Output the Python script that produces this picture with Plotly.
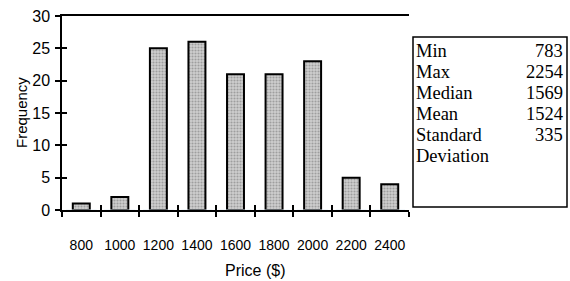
import plotly.graph_objects as go

categories = ["800", "1000", "1200", "1400", "1600", "1800", "2000", "2200", "2400"]
frequency = [1, 2, 25, 26, 21, 21, 23, 5, 4]
y_ticks = [0, 5, 10, 15, 20, 25, 30]
stat_labels = ["Min", "Max", "Median", "Mean", "Standard", "Deviation"]
stat_values = ["783", "2254", "1569", "1524", "335", ""]

W, H = 570, 281
ml, mr, mt, mb = 62, 161, 16, 71
pw, ph = W - ml - mr, H - mt - mb

def px_x(x):
    return (x - ml) / pw

def px_y(y):
    return (H - mb - y) / ph

sans = "Liberation Sans, Arial"
fig = go.Figure()
fig.add_trace(go.Bar(
    x=categories, y=frequency, width=0.44,
    marker=dict(color="#cfcfcf", line=dict(color="black", width=2),
                pattern=dict(shape=".", fgcolor="#6e6e6e", size=3, solidity=0.4)),
    showlegend=False, hoverinfo="skip",
))
fig.add_trace(go.Bar(x=categories, y=[0] * len(categories), xaxis="x2", yaxis="y2",
                     showlegend=False, hoverinfo="skip", marker=dict(color="rgba(0,0,0,0)")))

fig.update_layout(
    width=W, height=H, margin=dict(l=ml, r=mr, t=mt, b=mb, autoexpand=False),
    paper_bgcolor="white", plot_bgcolor="white",
    xaxis=dict(type="category", categoryorder="array", categoryarray=categories,
               showline=True, linecolor="black", linewidth=1.5, mirror=True,
               ticks="outside", ticklen=5, tickwidth=1.5, tickcolor="black",
               tickson="boundaries", showgrid=False, automargin=False, tickangle=0,
               tickfont=dict(family=sans, size=14, color="black"),
               ticklabelstandoff=21),
    yaxis=dict(range=[0, 30], tickvals=y_ticks, showline=True, linecolor="black", linewidth=1.5,
               ticks="outside", ticklen=5, tickwidth=1.5, tickcolor="black", showgrid=False,
               zeroline=False, automargin=False,
               tickfont=dict(family=sans, size=16, color="black"),
               ticklabelstandoff=2),
    xaxis2=dict(type="category", matches="x", overlaying="x", side="bottom",
                showline=False, ticks="inside", ticklen=5, tickwidth=1.5, tickcolor="black",
                tickson="boundaries", showticklabels=False, showgrid=False),
    yaxis2=dict(matches="y", overlaying="y", side="left", showline=False,
                tickvals=y_ticks, ticks="inside", ticklen=5, tickwidth=1.5, tickcolor="black",
                showticklabels=False, showgrid=False, zeroline=False),
)

# axis titles
fig.add_annotation(x=px_x(21), y=px_y(113), xref="paper", yref="paper", text="Frequency",
                   textangle=-90, showarrow=False, xanchor="center", yanchor="middle",
                   font=dict(family=sans, size=15, color="black"))
fig.add_annotation(x=px_x(255), y=px_y(270), xref="paper", yref="paper", text="Price ($)",
                   showarrow=False, xanchor="center", yanchor="middle",
                   font=dict(family=sans, size=16, color="black"))

# statistics box
box_l, box_r, box_t, box_b = 413, 567, 37, 207
fig.add_shape(type="rect", xref="paper", yref="paper",
              x0=px_x(box_l), x1=px_x(box_r), y0=px_y(box_b), y1=px_y(box_t),
              line=dict(color="black", width=1.5), fillcolor="white")
serif = dict(family="Liberation Serif, Times New Roman", size=18.5, color="black")
row0, row_step = 51, 21.0
for i, (lab, val) in enumerate(zip(stat_labels, stat_values)):
    yc = row0 + i * row_step
    fig.add_annotation(x=px_x(415), y=px_y(yc), xref="paper", yref="paper",
                       text=lab, showarrow=False, xanchor="left", yanchor="middle",
                       borderpad=0, font=serif)
    if val:
        fig.add_annotation(x=px_x(564), y=px_y(yc), xref="paper", yref="paper",
                           text=val, showarrow=False, xanchor="right", yanchor="middle",
                           borderpad=0, font=serif)

fig.write_html("out.html", config={"displayModeBar": False},
               post_script="document.body.style.margin='0';")
